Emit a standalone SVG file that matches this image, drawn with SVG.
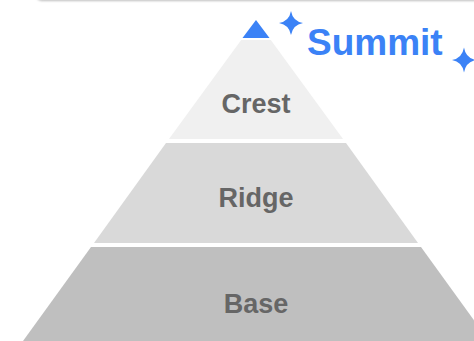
<svg xmlns="http://www.w3.org/2000/svg" width="474" height="341" viewBox="0 0 474 341">
  <defs>
    <filter id="shadow" x="-10%" y="-50%" width="120%" height="200%">
      <feDropShadow dx="0" dy="1" stdDeviation="1.2" flood-color="#000" flood-opacity="0.25"/>
    </filter>
    <style>
      .lbl { font-family: "Liberation Sans", Arial, sans-serif; font-weight: bold; font-size: 27px; fill: #666666; text-anchor: middle; }
      .blue { fill: #3b82f6; }
      .title { font-family: "Liberation Sans", Arial, sans-serif; font-weight: bold; font-size: 37px; fill: #3b82f6; }
    </style>
  </defs>
  <rect x="0" y="0" width="474" height="341" fill="#ffffff"/>
  <rect x="36" y="-40" width="460" height="40" rx="6" fill="#ffffff" filter="url(#shadow)"/>

  <g id="summit-tip">
    <polygon class="blue" points="256,20 269.5,38 242.5,38"/>
  </g>
  <g id="crest">
    <polygon points="241.2,40 270.8,40 343,139 169,139" fill="#f0f0f0"/>
    <text class="lbl" x="256" y="113">Crest</text>
  </g>
  <g id="ridge">
    <polygon points="166,143 346,143 418,243 94,243" fill="#d9d9d9"/>
    <text class="lbl" x="256" y="207">Ridge</text>
  </g>
  <g id="base">
    <polygon points="91,247 421,247 489,341 23,341" fill="#bfbfbf"/>
    <text class="lbl" x="256" y="312.5">Base</text>
  </g>

  <g id="summit-label">
    <text class="title" x="307" y="55">Summit</text>
    <path class="blue" d="M291,11 Q292.8,21.2 303,23 Q292.8,24.8 291,35 Q289.2,24.8 279,23 Q289.2,21.2 291,11 Z"/>
    <path class="blue" d="M464,47.5 Q465.8,58.2 476,60 Q465.8,61.8 464,72.5 Q462.2,61.8 452,60 Q462.2,58.2 464,47.5 Z"/>
  </g>
  <g id="connectors"></g>
</svg>
